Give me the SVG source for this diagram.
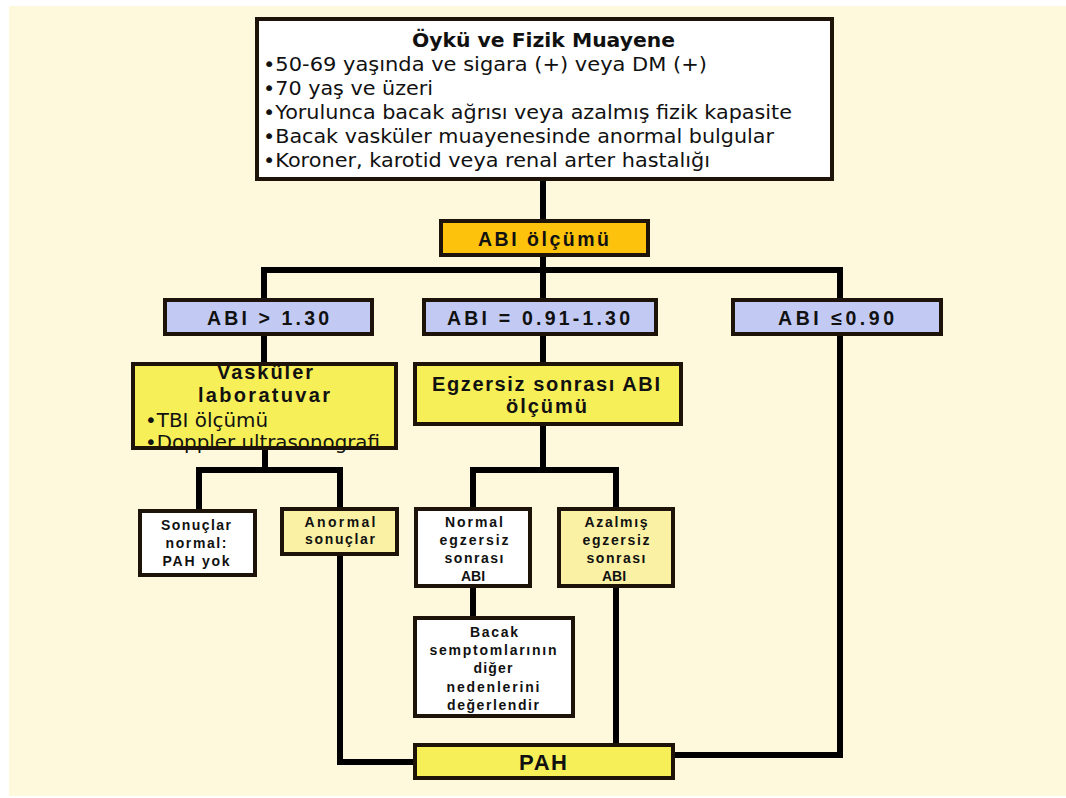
<svg xmlns="http://www.w3.org/2000/svg" width="1066" height="798" viewBox="0 0 1066 798">
<style>
.box{stroke:#1e1308;stroke-width:4}
.frame{fill:none;stroke:#1e1308;stroke-width:4}
.w{fill:#ffffff}
.o{fill:#fcc20c}
.b{fill:#c2caf4}
.y{fill:#f6ef57}
.p{fill:#fbf1a4}
.v{font-family:"DejaVu Sans",Verdana,sans-serif;font-size:20px;fill:#111}
.v19{font-family:"DejaVu Sans",Verdana,sans-serif;font-size:19px;fill:#111}
.vb{font-family:"DejaVu Sans",Verdana,sans-serif;font-size:20px;font-weight:bold;fill:#111}
.l{font-family:"Liberation Sans",Arial,sans-serif;font-weight:bold;fill:#111;text-anchor:middle}
.l18{font-size:19.5px}
.l19{font-size:20px}
.l13{font-size:14px}
.l20{font-size:22px}
.c{fill:none;stroke:#000;stroke-width:6;stroke-linejoin:miter;stroke-linecap:butt}
</style>
<rect x="0" y="0" width="1066" height="798" fill="#ffffff"/>
<rect x="9" y="6" width="1057" height="790" fill="#fef9dc"/>
<g id="connectors">
<path class="c" d="M543 181 V219"/>
<path class="c" d="M543 257 V298"/>
<path class="c" d="M264 298 V270 H840 V298"/>
<path class="c" d="M264 336 V364"/>
<path class="c" d="M543 336 V364"/>
<path class="c" d="M265 450 V470"/>
<path class="c" d="M199 511 V470 H340 V509"/>
<path class="c" d="M543 426 V470"/>
<path class="c" d="M473 509 V470 H616 V509"/>
<path class="c" d="M473 588 V618"/>
<path class="c" d="M616 588 V745"/>
<path class="c" d="M340 556 V762 H415"/>
<path class="c" d="M840 336 V755 H673"/>
</g>
<g id="oyku">
<rect class="box w" x="257" y="19" width="575" height="160"/>
<text class="vb" x="543.5" y="47" text-anchor="middle" textLength="263" lengthAdjust="spacingAndGlyphs">Öykü ve Fizik Muayene</text>
<text class="v" x="263" y="71" textLength="444" lengthAdjust="spacingAndGlyphs">•50-69 yaşında ve sigara (+) veya DM (+)</text>
<text class="v" x="263" y="95" textLength="170" lengthAdjust="spacingAndGlyphs">•70 yaş ve üzeri</text>
<text class="v" x="263" y="119" textLength="529" lengthAdjust="spacingAndGlyphs">•Yorulunca bacak ağrısı veya azalmış fizik kapasite</text>
<text class="v" x="263" y="143" textLength="511" lengthAdjust="spacingAndGlyphs">•Bacak vasküler muayenesinde anormal bulgular</text>
<text class="v" x="263" y="167" textLength="447" lengthAdjust="spacingAndGlyphs">•Koroner, karotid veya renal arter hastalığı</text>
</g>
<g id="abi-olcumu">
<rect class="box o" x="441" y="221" width="207" height="34"/>
<text class="l l18" x="543.5" y="246" textLength="131" lengthAdjust="spacing">ABI ölçümü</text>
</g>
<g id="abi-high">
<rect class="box b" x="165" y="300" width="207" height="34"/>
<text class="l l18" x="268" y="325" textLength="122" lengthAdjust="spacing">ABI &gt; 1.30</text>
</g>
<g id="abi-normal">
<rect class="box b" x="424" y="300" width="232" height="34"/>
<text class="l l18" x="538.5" y="325" textLength="183" lengthAdjust="spacing">ABI = 0.91-1.30</text>
</g>
<g id="abi-low">
<rect class="box b" x="733" y="300" width="208" height="34"/>
<text class="l l18" x="836" y="325" textLength="116" lengthAdjust="spacing">ABI ≤0.90</text>
</g>
<g id="vaskuler">
<rect class="y" x="133" y="364" width="263" height="84"/>
<text class="l l19" x="265" y="379" textLength="96" lengthAdjust="spacing">Vasküler</text>
<text class="l l19" x="264" y="402" textLength="132" lengthAdjust="spacing">laboratuvar</text>
<text class="v19" x="145" y="427" textLength="123" lengthAdjust="spacingAndGlyphs">•TBI ölçümü</text>
<text class="v19" x="145" y="449" textLength="235" lengthAdjust="spacingAndGlyphs">•Doppler ultrasonografi</text>
<rect class="frame" x="133" y="364" width="263" height="84"/>
</g>
<g id="egzersiz">
<rect class="box y" x="415" y="364" width="266" height="60"/>
<text class="l l19" x="546" y="391" textLength="228" lengthAdjust="spacing">Egzersiz sonrası ABI</text>
<text class="l l19" x="546.5" y="413" textLength="81" lengthAdjust="spacing">ölçümü</text>
</g>
<g id="sonuclar-normal">
<rect class="box w" x="140" y="511" width="115" height="64"/>
<text class="l l13" x="196" y="530" textLength="70" lengthAdjust="spacing">Sonuçlar</text>
<text class="l l13" x="196" y="548" textLength="61" lengthAdjust="spacing">normal:</text>
<text class="l l13" x="196" y="566" textLength="67" lengthAdjust="spacing">PAH yok</text>
</g>
<g id="anormal">
<rect class="box p" x="282" y="509" width="115" height="45"/>
<text class="l l13" x="340" y="527" textLength="71" lengthAdjust="spacing">Anormal</text>
<text class="l l13" x="340" y="544" textLength="70" lengthAdjust="spacing">sonuçlar</text>
</g>
<g id="normal-egzersiz">
<rect class="box w" x="416" y="509" width="114" height="77"/>
<text class="l l13" x="474" y="527" textLength="58" lengthAdjust="spacing">Normal</text>
<text class="l l13" x="474" y="545" textLength="69" lengthAdjust="spacing">egzersiz</text>
<text class="l l13" x="474" y="563" textLength="59" lengthAdjust="spacing">sonrası</text>
<text class="l l13" x="473" y="581">ABI</text>
</g>
<g id="azalmis">
<rect class="box p" x="559" y="509" width="114" height="77"/>
<text class="l l13" x="616" y="527" textLength="63" lengthAdjust="spacing">Azalmış</text>
<text class="l l13" x="616" y="545" textLength="67" lengthAdjust="spacing">egzersiz</text>
<text class="l l13" x="616" y="563" textLength="59" lengthAdjust="spacing">sonrası</text>
<text class="l l13" x="614" y="581">ABI</text>
</g>
<g id="bacak">
<rect class="box w" x="415" y="618" width="158" height="98"/>
<text class="l l13" x="494" y="637" textLength="48" lengthAdjust="spacing">Bacak</text>
<text class="l l13" x="493" y="655" textLength="127" lengthAdjust="spacing">semptomlarının</text>
<text class="l l13" x="493" y="673" textLength="39" lengthAdjust="spacing">diğer</text>
<text class="l l13" x="493" y="692" textLength="93" lengthAdjust="spacing">nedenlerini</text>
<text class="l l13" x="493" y="710" textLength="92" lengthAdjust="spacing">değerlendir</text>
</g>
<g id="pah">
<rect class="box y" x="415" y="745" width="258" height="33"/>
<text class="l l20" x="543" y="770" textLength="48" lengthAdjust="spacing">PAH</text>
</g>
</svg>
